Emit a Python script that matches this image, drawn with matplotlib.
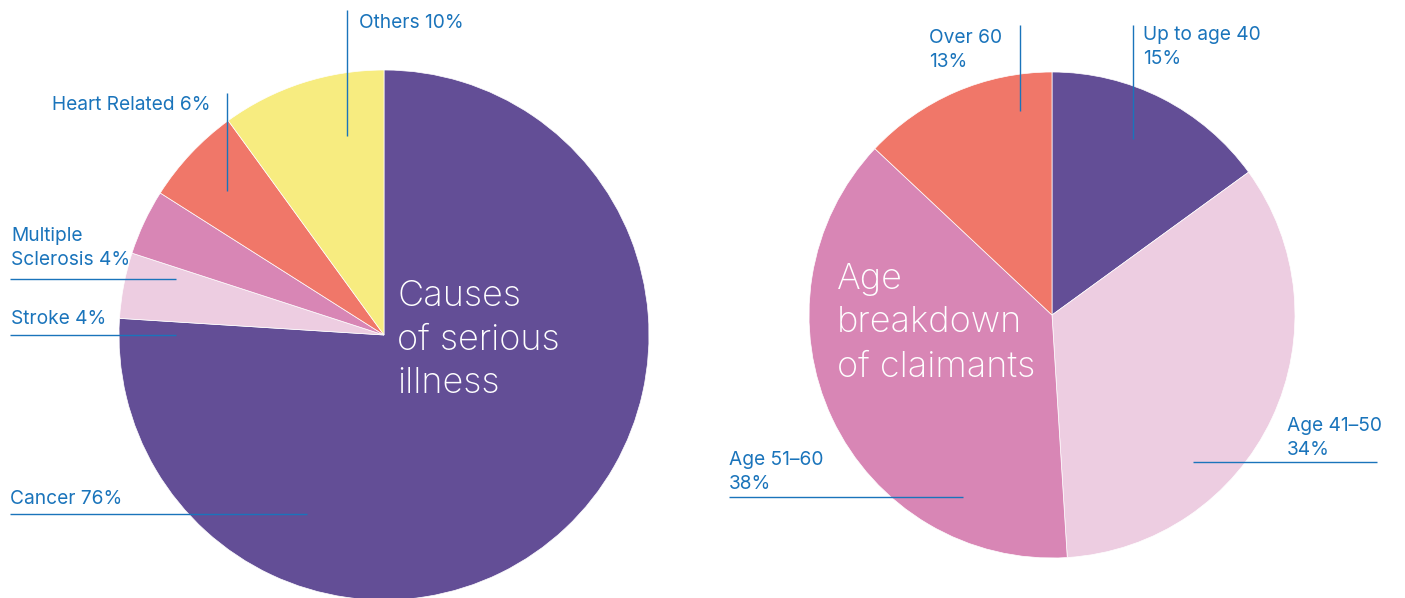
import matplotlib.pyplot as plt

# data
illness_labels = ['Cancer', 'Stroke', 'Multiple Sclerosis', 'Heart Related', 'Others']
illness_values = [76, 4, 4, 6, 10]
age_labels = ['Up to age 40', 'Age 41\u201350', 'Age 51\u201360', 'Over 60']
age_values = [15, 34, 38, 13]

purple = '#634E96'
pale = '#EDCDE1'
pink = '#D886B5'
salmon = '#F07769'
yellow = '#F7EC80'
blue = '#1A74BB'

illness_colors = [purple, pale, pink, salmon, yellow]
age_colors = [purple, pale, pink, salmon]

W, H = 1405, 598
plt.rcParams['font.family'] = ['Inter', 'DejaVu Sans']

fig = plt.figure(figsize=(W / 100, H / 100), dpi=100)
ax = fig.add_axes([0, 0, 1, 1])

def py(y):
    # pixel row -> data y
    return H - y

wp = dict(edgecolor='white', linewidth=0.5)
ax.pie(illness_values, colors=illness_colors, startangle=90, counterclock=False,
       center=(384, py(335)), radius=265, wedgeprops=wp, frame=True)
ax.pie(age_values, colors=age_colors, startangle=90, counterclock=False,
       center=(1052, py(315)), radius=243, wedgeprops=wp, frame=True)

ax.set_xlim(0, W)
ax.set_ylim(0, H)
ax.set_aspect('equal')
ax.axis('off')

fs = 13.8
lw = 1.0

def line(x0, y0, x1, y1):
    ax.plot([x0, x1], [py(y0), py(y1)], color=blue, lw=lw, solid_capstyle='butt')

def label(x, y, s, ha='left'):
    ax.text(x, py(y), s, color=blue, fontsize=fs, ha=ha, va='center', linespacing=1.42)

# left pie labels
label(359, 23, f'{illness_labels[4]} {illness_values[4]}%')
line(347, 10, 347, 136)
label(210, 105, f'{illness_labels[3]} {illness_values[3]}%', ha='right')
line(227, 93, 227, 191)
label(11, 248, f'Multiple\nSclerosis {illness_values[2]}%')
line(10, 279, 176, 279)
label(11, 319, f'{illness_labels[1]} {illness_values[1]}%')
line(10, 335, 176, 335)
label(10, 499, f'{illness_labels[0]} {illness_values[0]}%')
line(10, 514, 307, 514)

# right pie labels
label(929, 50, f'{age_labels[3]}\n{age_values[3]}%')
line(1020, 25, 1020, 111)
label(1143, 47, f'{age_labels[0]}\n{age_values[0]}%')
line(1133, 25, 1133, 139)
label(1287, 438, f'{age_labels[1]}\n{age_values[1]}%')
line(1193, 462, 1377, 462)
label(729, 472, f'{age_labels[2]}\n{age_values[2]}%')
line(729, 497, 963, 497)

# titles inside pies
ax.text(397, py(340), 'Causes\nof serious\nillness', color='white', fontsize=26,
        fontweight='light', ha='left', va='center', linespacing=1.42)
ax.text(837, py(323), 'Age\nbreakdown\nof claimants', color='white', fontsize=26,
        fontweight='light', ha='left', va='center', linespacing=1.42)

fig.savefig('out.png', dpi=100)
